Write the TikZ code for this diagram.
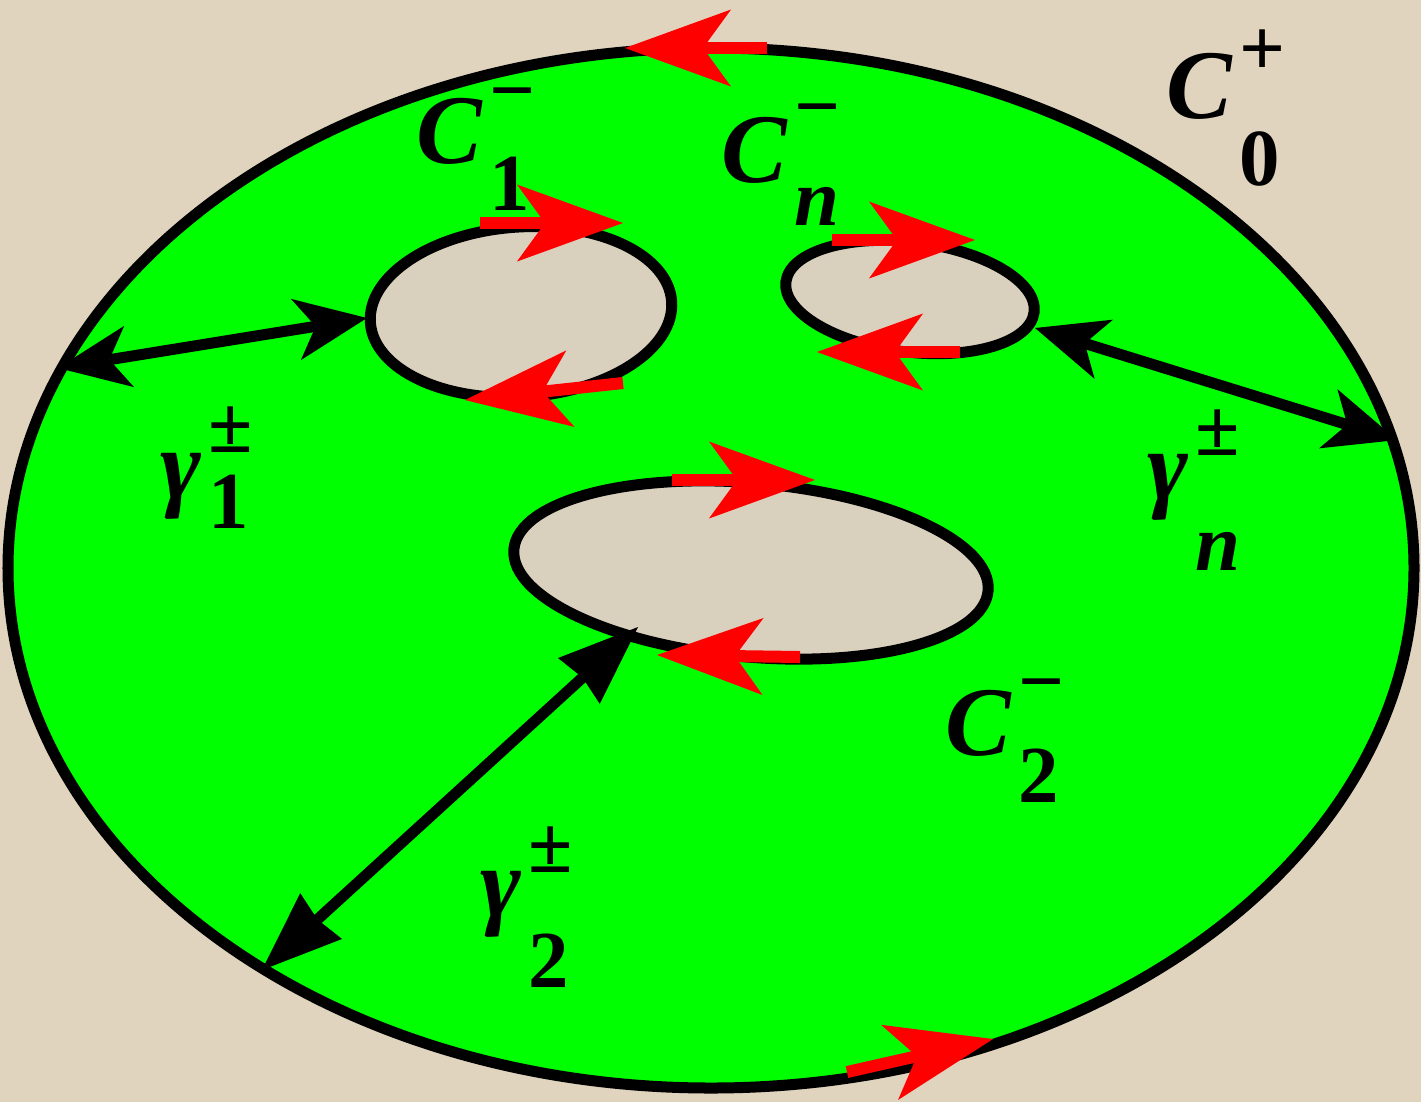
\documentclass[tikz,border=0pt]{standalone}
\usepackage{fontspec}
\setmainfont{Liberation Serif}
\usetikzlibrary{arrows.meta}

\definecolor{bgbeige}{RGB}{224,212,190}
\definecolor{holebeige}{RGB}{218,208,190}
\definecolor{regiongreen}{RGB}{0,255,0}

\newcommand{\scfnt}{\fontsize{23}{25}\selectfont\upshape}
\newcommand{\supsub}[5]{#1\kern2pt\rlap{\raisebox{#4}{\scfnt #2}}\raisebox{-#5}{\scfnt #3}}

\tikzset{
  rim/.style={line width=0.11cm},
  redarr/.style={red, line width=0.12cm,
    -{Stealth[length=1.06cm, width=0.77cm, inset=0.28cm, line width=0pt]}},
  garr/.style={line width=0.11cm,
    {Stealth[length=0.72cm, width=0.62cm, inset=0.2cm, line width=0pt]}-{Stealth[length=0.72cm, width=0.62cm, inset=0.2cm, line width=0pt]}},
  garrb/.style={line width=0.11cm,
    {Stealth[length=0.8cm, width=0.62cm, inset=0.05cm, line width=0pt]}-{Stealth[length=0.8cm, width=0.62cm, inset=0.05cm, line width=0pt]}},
  labtxt/.style={inner sep=0pt, anchor=base west, font=\fontsize{28}{30}\selectfont\bfseries\itshape}
}

\begin{document}
\begin{tikzpicture}[x=0.01cm, y=-0.01cm]
  % 背景
  \useasboundingbox (0,0) rectangle (1421,1102);
  \fill[bgbeige] (0,0) rectangle (1421,1102);

  % 区域与边界
  \filldraw[fill=regiongreen, rim] (711,568) ellipse [x radius=703, y radius=520];
  \filldraw[fill=holebeige, rim, rotate around={4:(521,312)}] (521,312) ellipse [x radius=151, y radius=85];
  \filldraw[fill=holebeige, rim, rotate around={-7:(910,297)}] (910,297) ellipse [x radius=125, y radius=55];
  \filldraw[fill=holebeige, rim, rotate around={-5:(751,570)}] (751,570) ellipse [x radius=238, y radius=87];

  % 边界方向
  \draw[redarr] (767,48) -- (625,48);
  \draw[redarr] (847,1072) -- (993,1039);
  \draw[redarr] (480,223) -- (623,223);
  \draw[redarr] (623,383) -- (465,400);
  \draw[redarr] (832,240) -- (975,240);
  \draw[redarr] (960,352) -- (817,352);
  \draw[redarr] (672,480) -- (815,480);
  \draw[redarr] (800,657) -- (657,655);

  % 割线
  \coordinate (g1out) at (58,368);
  \coordinate (g1in) at (367,318);
  \coordinate (gnin) at (1035,328);
  \coordinate (gnout) at (1397,440);
  \coordinate (g2in) at (638,627);
  \coordinate (g2out) at (262,970);
  \draw[garr] (g1out) -- (g1in);
  \draw[garr] (gnin) -- (gnout);
  \draw[garrb] (g2in) -- (g2out);

  % 标注
  \node[labtxt] (c0) at (1166,118) {\supsub{C}{+}{0}{0.42cm}{0.67cm}};
  \node[labtxt] (c1) at (416,163) {\supsub{C}{−}{1}{0.45cm}{0.47cm}};
  \node[labtxt] (cn) at (721,182) {\supsub{C}{−}{\itshape n}{0.48cm}{0.43cm}};
  \node[labtxt] (c2) at (945,755) {\supsub{C}{−}{2}{0.46cm}{0.47cm}};
  \node[labtxt] (g1) at (160,498) {\supsub{γ}{±}{1}{0.45cm}{0.3cm}};
  \node[labtxt] (gn) at (1147,499) {\supsub{γ}{±}{\itshape n}{0.43cm}{0.71cm}};
  \node[labtxt] (g2) at (480,916) {\supsub{γ}{±}{2}{0.43cm}{0.71cm}};
\end{tikzpicture}
\end{document}
